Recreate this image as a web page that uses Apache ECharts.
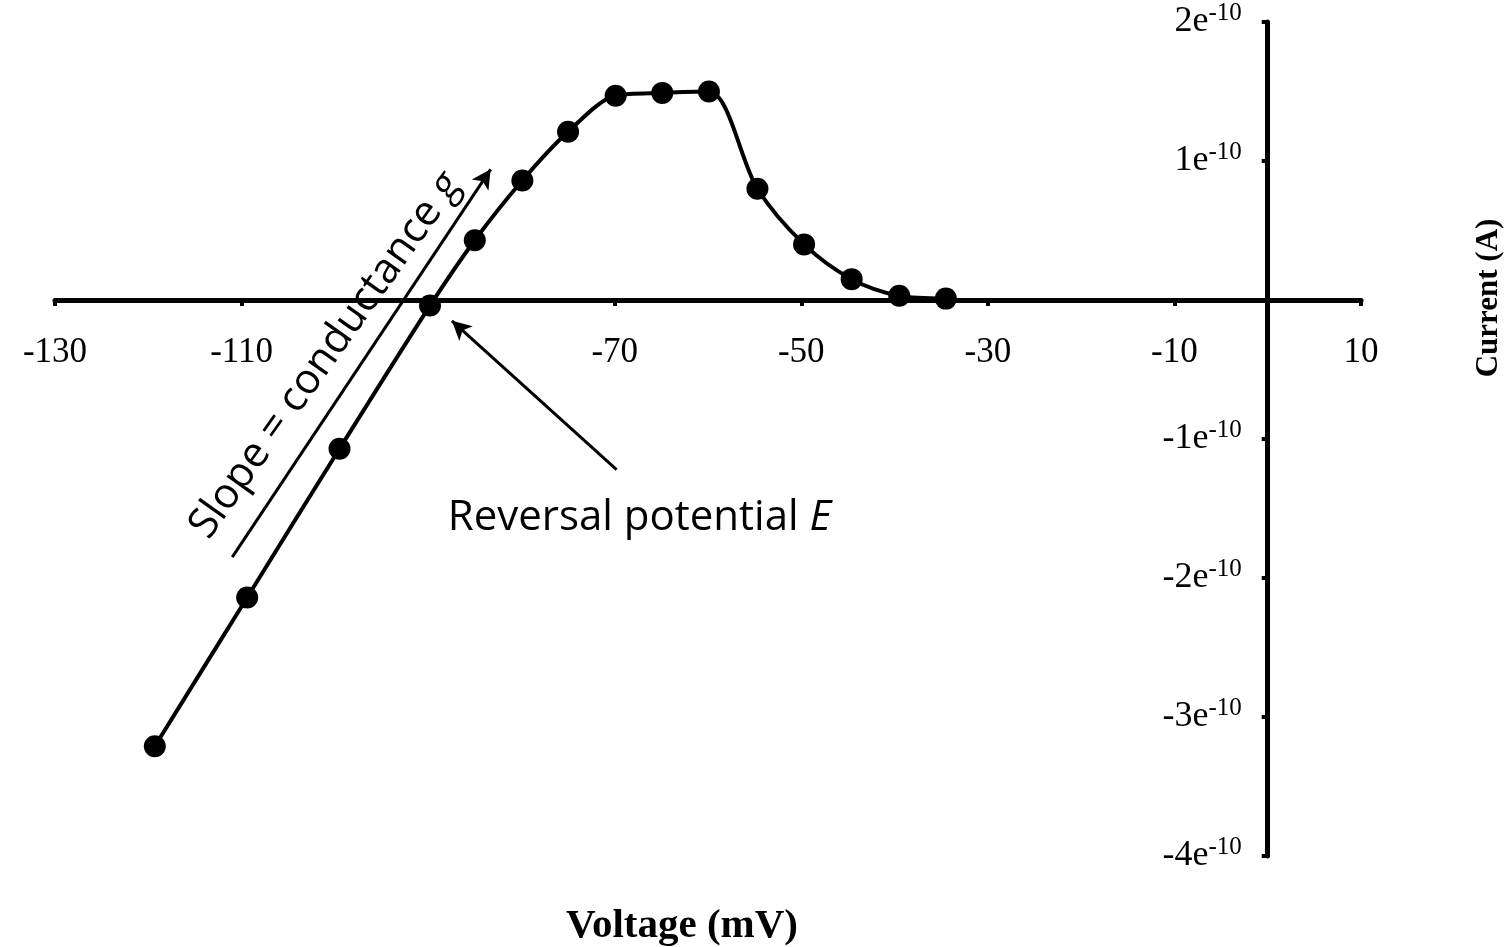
<!DOCTYPE html>
<html>
<head>
<meta charset="utf-8" />
<script src="https://cdn.jsdelivr.net/npm/echarts@6/dist/echarts.min.js"></script>
<style>
  html, body { margin: 0; padding: 0; background: #fff; }
  #chart { width: 1506px; height: 947px; }
</style>
</head>
<body>
<div id="chart"></div>
<script>
// measured I-V points (mV, A)
const voltage = [-119.3, -109.4, -99.5, -89.8, -85.0, -79.9, -75.0, -69.9, -64.9, -59.9, -54.7, -49.7, -44.6, -39.5, -34.5];
const current = [-3.21e-10, -2.14e-10, -1.07e-10, -0.04e-10, 0.43e-10, 0.86e-10, 1.21e-10, 1.47e-10, 1.49e-10, 1.50e-10, 0.80e-10, 0.40e-10, 0.15e-10, 0.03e-10, 0.01e-10];

// axis ticks
const voltageTicks = [-130, -110, -90, -70, -50, -30, -10, 10];
const hiddenVoltageTicks = [-90];
const currentTicks = [-4e-10, -3e-10, -2e-10, -1e-10, 0, 1e-10, 2e-10];

// annotation anchors in data space [mV, A]
const slopeArrow = [[-111.0, -1.85e-10], [-83.3, 0.94e-10]];
const reversalArrow = [[-69.8, -1.22e-10], [-87.45, -0.15e-10]];
const slopeLabelAt = [-101.0, -0.40e-10];
const reversalLabelAt = [-87.9, -1.57e-10];

const SERIF = "'Liberation Serif', 'Times New Roman', serif";
const SANS = "'Open Sans', 'Noto Sans', sans-serif";

const GRID = { left: 55, right: 145, top: 22, bottom: 91 };
const W = 1506;
const H = 947;

const el = document.getElementById('chart');
const chart = echarts.init(el, null, { renderer: 'canvas' });

function formatCurrent(value) {
  const m = Math.round(value * 1e10);
  if (m === 0) return '';
  return `{m|${m}e}{s|-10}`;
}

// the axes cross at (0, 0), so both are pulled into the grid by an offset
function axisOffsets() {
  const vMin = voltageTicks[0];
  const vMax = voltageTicks[voltageTicks.length - 1];
  const iMin = currentTicks[0];
  const iMax = currentTicks[currentTicks.length - 1];
  const gw = W - GRID.left - GRID.right;
  const gh = H - GRID.top - GRID.bottom;
  return {
    x: -gh * (0 - iMin) / (iMax - iMin),
    y: -gw * (0 - vMin) / (vMax - vMin),
  };
}

function buildOption() {
  const off = axisOffsets();
  return {
    animation: false,
    backgroundColor: '#fff',
    grid: { ...GRID, outerBoundsMode: 'none', containLabel: false },
    xAxis: {
      type: 'value',
      position: 'bottom',
      offset: off.x,
      min: voltageTicks[0],
      max: voltageTicks[voltageTicks.length - 1],
      interval: 20,
      name: 'Voltage (mV)',
      nameLocation: 'middle',
      nameGap: 606,
      nameTextStyle: {
        fontFamily: SERIF,
        fontWeight: 'bold',
        fontSize: 41,
        color: '#000',
        padding: [0, 52, 0, 0],
      },
      axisLine: { onZero: false, lineStyle: { color: '#000', width: 5 } },
      axisTick: { show: true, length: 6, lineStyle: { color: '#000', width: 4 } },
      axisLabel: {
        margin: 35,
        color: '#000',
        fontFamily: SERIF,
        fontSize: 35,
        formatter: (v) => (hiddenVoltageTicks.includes(v) ? '' : String(v)),
      },
      splitLine: { show: false },
    },
    yAxis: {
      type: 'value',
      position: 'left',
      offset: off.y,
      min: currentTicks[0],
      max: currentTicks[currentTicks.length - 1],
      interval: 1e-10,
      axisLine: { onZero: false, lineStyle: { color: '#000', width: 5 } },
      axisTick: { show: true, length: 6, lineStyle: { color: '#000', width: 4 } },
      axisLabel: {
        margin: 26,
        color: '#000',
        fontFamily: SERIF,
        fontSize: 36,
        formatter: formatCurrent,
        rich: {
          m: { fontFamily: SERIF, fontSize: 36, color: '#000' },
          s: { fontFamily: SERIF, fontSize: 25, color: '#000', padding: [0, 0, 18, 0] },
        },
      },
      splitLine: { show: false },
    },
    series: [
      {
        type: 'line',
        data: voltage.map((v, i) => [v, current[i]]),
        smooth: 0.3,
        symbol: 'circle',
        symbolSize: 22,
        itemStyle: { color: '#000' },
        lineStyle: { color: '#000', width: 4 },
        emphasis: { disabled: true },
        silent: true,
        markLine: {
          silent: true,
          animation: false,
          symbolSize: [15, 19],
          label: { show: false },
          lineStyle: { color: '#000', width: 3, type: 'solid' },
          emphasis: { disabled: true },
          data: [
            [
              { coord: slopeArrow[0], symbol: 'none' },
              { coord: slopeArrow[1], symbol: 'arrow' },
            ],
            [
              { coord: reversalArrow[0], symbol: 'none' },
              { coord: reversalArrow[1], symbol: 'arrow' },
            ],
          ],
        },
      },
    ],
  };
}

function buildGraphics() {
  const slopeAt = chart.convertToPixel({ gridIndex: 0 }, slopeLabelAt);
  const reversalAt = chart.convertToPixel({ gridIndex: 0 }, reversalLabelAt);
  const [a, b] = slopeArrow.map((p) => chart.convertToPixel({ gridIndex: 0 }, p));
  const angle = Math.atan2(a[1] - b[1], b[0] - a[0]) - 0.03;

  return [
    {
      type: 'text',
      x: slopeAt[0],
      y: slopeAt[1],
      rotation: angle,
      style: {
        text: '{n|Slope = conductance }{i|g}',
        align: 'center',
        verticalAlign: 'middle',
        rich: {
          n: { fontFamily: SANS, fontSize: 42, fill: '#000' },
          i: { fontFamily: SANS, fontSize: 42, fontStyle: 'italic', fill: '#000' },
        },
      },
    },
    {
      type: 'text',
      x: reversalAt[0],
      y: reversalAt[1],
      style: {
        text: '{n|Reversal potential }{i|E}',
        align: 'left',
        verticalAlign: 'middle',
        rich: {
          n: { fontFamily: SANS, fontSize: 42, fill: '#000' },
          i: { fontFamily: SANS, fontSize: 42, fontStyle: 'italic', fill: '#000' },
        },
      },
    },
    {
      type: 'text',
      x: 1489,
      y: 298,
      rotation: Math.PI / 2,
      style: {
        text: 'Current (A)',
        align: 'center',
        verticalAlign: 'middle',
        fontFamily: SERIF,
        fontWeight: 'bold',
        fontSize: 31,
        fill: '#000',
      },
    },
  ];
}

chart.setOption(buildOption());
chart.setOption({ graphic: buildGraphics() });
</script>
</body>
</html>
